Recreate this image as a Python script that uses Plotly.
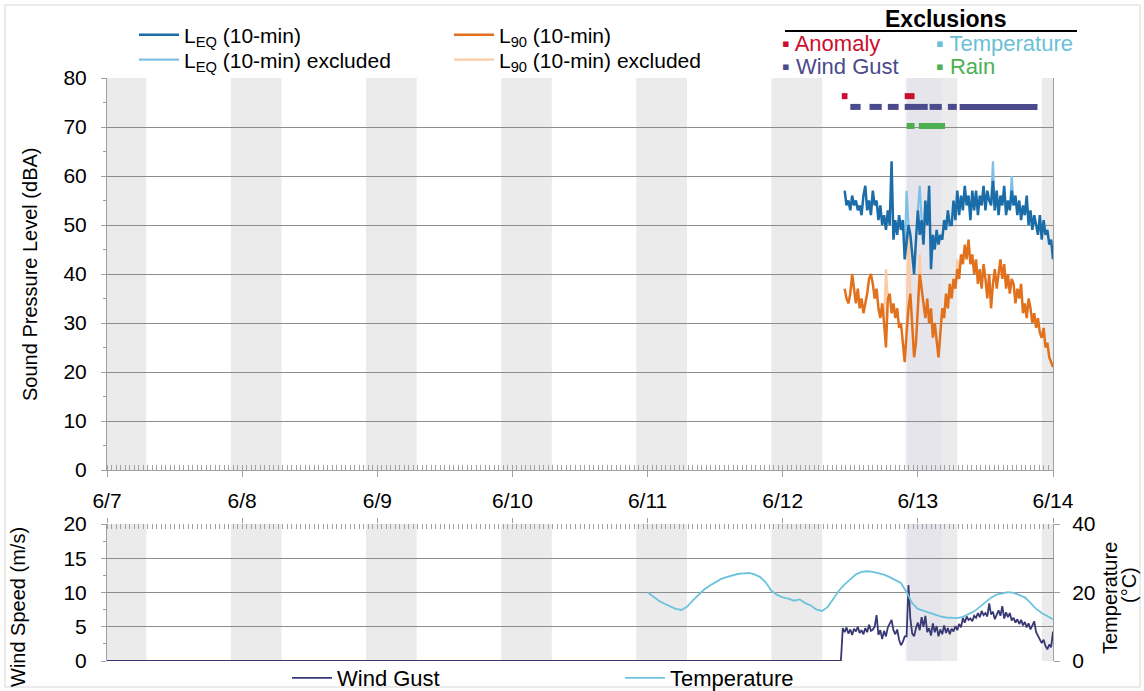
import plotly.graph_objects as go
import pandas as pd

W, H = 1144, 691
FONT = "Liberation Sans, Arial, sans-serif"

def px(x):
    return x / W

def py(y):
    return 1 - y / H

# ---------------- data ----------------
x_range = ["2023-06-07 00:00", "2023-06-14 00:00"]
day_ticks = pd.date_range("2023-06-07", "2023-06-14", freq="D")

# 20-minute values, 6/12 11:00 -> 6/14 00:00
leq_times = pd.date_range("2023-06-12 11:00", "2023-06-14 00:00", freq="20min")
leq_values = [
    57, 54, 55, 53, 56, 54, 55, 53, 54, 52, 56, 58,
    53, 55, 52, 57, 54, 55, 51, 54, 50, 52, 49, 53,
    50, 63, 47, 51, 48, 52, 49, 51, 43, 46, 50, 48,
    44, 40, 47,
    53, 48, 51, 46, 55, 50, 58, 41, 48, 45, 49, 46,
    48, 47, 51, 49, 53, 50, 50, 55, 51, 57, 52, 56,
    53, 58, 54, 56, 51, 57, 53, 57, 52, 56, 54, 58,
    53, 57, 55, 54, 59, 53, 57, 52, 56, 54, 58, 52,
    55, 53, 57, 54, 56, 52, 55, 51, 54, 52, 56, 50,
    53, 49, 52, 50, 48, 52, 47, 51, 48, 49, 46, 47,
    43,
]
l90_values = [
    37, 35, 34, 36, 40, 37, 34, 37, 33, 35, 32, 34,
    36, 39, 40, 38, 35, 37, 33, 31, 34, 30, 25, 35,
    36, 32, 34, 31, 33, 29, 30, 26, 22, 28, 33, 36,
    30, 23, 26,
    33, 40, 37, 34, 31, 35, 30, 33, 27, 30, 26, 23,
    28, 33, 31, 36, 33, 38, 35, 39, 37, 41, 39, 44,
    42, 46, 43, 47, 42, 44, 40, 43, 38, 41, 37, 42,
    39, 35, 40, 33, 38, 41, 37, 40, 43, 39, 42, 37,
    40, 36, 39, 38, 34, 37, 35, 38, 32, 34, 31, 35,
    33, 30, 32, 29, 31, 28, 27, 29, 25, 26, 23, 22,
    21,
]

# excluded intervals drawn in the lighter colours
leq_excl_times = [
    "2023-06-12 21:40", "2023-06-12 22:00", "2023-06-12 22:20", None,
    "2023-06-13 00:00", "2023-06-13 00:20", "2023-06-13 00:40", None,
    "2023-06-13 13:00", "2023-06-13 13:20", "2023-06-13 13:40", None,
    "2023-06-13 16:20", "2023-06-13 16:40", "2023-06-13 17:00",
]
leq_excl_values = [43, 57, 50, None, 53, 58, 51, None, 54, 63, 53, None, 53, 60, 54]
l90_excl_times = [
    "2023-06-12 18:00", "2023-06-12 18:20", "2023-06-12 18:40", None,
    "2023-06-12 22:00", "2023-06-12 22:20", "2023-06-12 22:40", None,
    "2023-06-13 00:00", "2023-06-13 00:20", "2023-06-13 00:40", None,
    "2023-06-13 06:40", "2023-06-13 07:00", "2023-06-13 07:20",
]
l90_excl_values = [30, 41, 35, None, 28, 50, 36, None, 33, 44, 37, None, 37, 43, 39]

# hourly temperature, 6/11 00:00 -> 6/14 00:00
temp_times = pd.date_range("2023-06-11 00:00", "2023-06-14 00:00", freq="h")
temp_values = [
    20.1, 18.8, 17.6, 16.7, 16.0, 15.2, 14.9, 15.8, 17.6, 19.2, 20.8, 22.0,
    23.0, 23.9, 24.5, 25.0, 25.4, 25.6, 25.7, 25.3, 24.5, 22.9, 20.5, 19.3,
    18.6, 18.2, 17.6, 18.0, 16.9, 16.2, 15.0, 14.6, 15.8, 18.2, 20.6, 22.4,
    24.0, 25.3, 26.0, 26.2, 26.0, 25.6, 25.2, 24.5, 23.6, 22.8, 20.1, 16.9,
    15.2, 14.6, 14.0, 13.6, 13.0, 12.7, 12.5, 12.5, 12.9, 13.6, 14.5, 15.8,
    17.2, 18.5, 19.4, 19.8, 20.1, 19.9, 19.2, 18.6, 17.0, 15.2, 14.0, 13.0,
    12.2,
]

# wind gust: zero until 6/12 10:20, then 20-minute values
wind_times = [pd.Timestamp("2023-06-07 00:00"), pd.Timestamp("2023-06-12 10:20")] + list(
    pd.date_range("2023-06-12 10:40", "2023-06-14 00:00", freq="20min"))
wind_values = [
    0.0, 0.0,
    4.8,
    4.2, 4.9, 4.0, 4.6, 3.8, 4.7, 4.3, 5.0, 4.1, 4.5, 3.9, 4.8,
    4.2, 5.3, 4.4, 4.6, 5.0, 6.7, 3.8, 4.5, 3.2, 4.4, 3.6, 4.9,
    5.4, 6.0, 4.5, 3.9, 4.6, 3.1, 2.3, 2.8, 3.6, 3.6, 11.1, 6.2,
    4.0, 3.6, 4.8,
    5.6, 4.5, 6.4, 5.0, 6.6, 4.2, 4.8, 3.7, 5.5, 4.2, 5.1, 3.6,
    4.6, 3.9, 5.2, 4.1, 4.8, 3.9, 4.7, 4.3, 5.1, 4.5, 5.4, 4.9,
    6.3, 5.6, 6.5, 6.0, 6.2, 5.8, 6.6, 6.3, 7.0, 6.4, 7.3, 6.7,
    7.0, 6.5, 8.4, 6.8, 7.2, 6.1, 6.9, 7.4, 6.6, 8.0, 6.2, 7.1,
    6.4, 7.0, 5.9, 6.3, 5.6, 6.1, 5.4, 6.0, 5.2, 5.7, 4.9, 5.5,
    4.6, 5.1, 5.8, 4.2, 3.6, 3.0, 2.6, 3.1, 2.2, 1.7, 2.4, 2.0,
    4.3,
]

# exclusion periods (start, end) and the level they are drawn at (dBA)
excl_anomaly = [("2023-06-12 10:30", "2023-06-12 11:30"), ("2023-06-12 21:40", "2023-06-12 23:25")]
excl_wind = [
    ("2023-06-12 12:00", "2023-06-12 13:50"), ("2023-06-12 15:25", "2023-06-12 17:35"),
    ("2023-06-12 18:40", "2023-06-12 20:35"), ("2023-06-12 21:40", "2023-06-13 01:45"),
    ("2023-06-13 02:05", "2023-06-13 04:15"), ("2023-06-13 05:20", "2023-06-13 06:55"),
    ("2023-06-13 07:25", "2023-06-13 21:15"),
]
excl_rain = [("2023-06-12 22:00", "2023-06-12 23:25"), ("2023-06-13 00:10", "2023-06-13 04:50")]
level_anomaly, level_wind, level_rain = 76.3, 74.1, 70.2

# night-time bands (22:00 -> 07:00)
night_start_hour, night_end_hour = 22, 7
night_dates = pd.date_range("2023-06-06", "2023-06-13", freq="D")
shade_period = ("2023-06-12 21:40", "2023-06-13 04:15")

# ---------------- colours ----------------
C_LEQ, C_LEQX = "#1a6da8", "#7cc0e8"
C_L90, C_L90X = "#e2711d", "#fbcba5"
C_WIND, C_TEMP = "#383874", "#6cc3dc"
C_RED, C_PURP, C_GREEN = "#c8102e", "#4a4a8c", "#4cb050"
GRID = "#8c8c8c"
AX = "#a0a0a0"


def segs(periods, level):
    xs, ys = [], []
    for s, e in periods:
        xs += [s, e, None]
        ys += [level, level, None]
    return xs, ys


fig = go.Figure()

fig.add_trace(go.Scatter(x=leq_excl_times, y=leq_excl_values, mode="lines",
                         line=dict(color=C_LEQX, width=2.2), name="L<sub>EQ</sub> (10-min) excluded",
                         legend="legend5", xaxis="x", yaxis="y"))
fig.add_trace(go.Scatter(x=l90_excl_times, y=l90_excl_values, mode="lines",
                         line=dict(color=C_L90X, width=2.2), name="L<sub>90</sub> (10-min) excluded",
                         legend="legend6", xaxis="x", yaxis="y"))
fig.add_trace(go.Scatter(x=leq_times, y=leq_values, mode="lines",
                         line=dict(color=C_LEQ, width=2.5), name="L<sub>EQ</sub> (10-min)",
                         legend="legend", xaxis="x", yaxis="y"))
fig.add_trace(go.Scatter(x=leq_times, y=l90_values, mode="lines",
                         line=dict(color=C_L90, width=2.5), name="L<sub>90</sub> (10-min)",
                         legend="legend2", xaxis="x", yaxis="y"))

for periods, level, col in [(excl_anomaly, level_anomaly, C_RED),
                            (excl_wind, level_wind, C_PURP),
                            (excl_rain, level_rain, C_GREEN)]:
    xs, ys = segs(periods, level)
    fig.add_trace(go.Scatter(x=xs, y=ys, mode="lines", line=dict(color=col, width=6),
                             showlegend=False, hoverinfo="skip", xaxis="x", yaxis="y"))

fig.add_trace(go.Scatter(x=temp_times, y=temp_values, mode="lines",
                         line=dict(color=C_TEMP, width=1.8), name="Temperature",
                         legend="legend4", xaxis="x2", yaxis="y3"))
fig.add_trace(go.Scatter(x=wind_times, y=wind_values, mode="lines",
                         line=dict(color=C_WIND, width=1.8), name="Wind Gust",
                         legend="legend3", xaxis="x2", yaxis="y2"))

# ---------------- shapes ----------------
shapes = []
t0, t1 = pd.Timestamp(x_range[0]), pd.Timestamp(x_range[1])
for d in night_dates:
    s = max(d + pd.Timedelta(hours=night_start_hour), t0)
    e = min(d + pd.Timedelta(days=1, hours=night_end_hour), t1)
    for xr, yr in [("x", "y domain"), ("x2", "y2 domain")]:
        shapes.append(dict(type="rect", xref=xr, yref=yr, x0=s, x1=e, y0=0, y1=1,
                           fillcolor="#ebebeb", line=dict(width=0), layer="below"))
for xr, yr in [("x", "y domain"), ("x2", "y2 domain")]:
    shapes.append(dict(type="rect", xref=xr, yref=yr, x0=shade_period[0], x1=shade_period[1],
                       y0=0, y1=1, fillcolor="rgba(205,195,240,0.14)", line=dict(width=0),
                       layer="below"))
# exclusions header underline and outer frame
shapes.append(dict(type="line", xref="paper", yref="paper", x0=px(785), x1=px(1077),
                   y0=py(31), y1=py(31), line=dict(color="black", width=2)))
shapes.append(dict(type="rect", xref="paper", yref="paper", x0=px(5), x1=px(1140),
                   y0=py(687), y1=py(5), line=dict(color="#d6d6d6", width=1)))

# ---------------- annotations ----------------
ann = []
def text(x, y, t, size=22, color="black", xanchor="left", angle=0):
    ann.append(dict(x=px(x), y=py(y), xref="paper", yref="paper", text=t, showarrow=False,
                    xanchor=xanchor, yanchor="middle", textangle=angle,
                    font=dict(family=FONT, size=size, color=color)))

text(946, 19, "<b>Exclusions</b>", size=23, xanchor="center")
text(780, 44, "▪ Anomaly", color=C_RED)
text(780, 66, "▪ Wind Gust", color=C_PURP)
text(934, 44, "▪ Temperature", color="#6bbfd6")
text(934, 66, "▪ Rain", color=C_GREEN)
text(30, 275, "Sound Pressure Level (dBA)", size=20, xanchor="center", angle=-90)
text(18, 607, "Wind Speed (m/s)", size=20, xanchor="center", angle=-90)
text(1110, 598, "Temperature", size=20, xanchor="center", angle=-90)
text(1129, 585, "(°C)", size=20, xanchor="center", angle=-90)

tickfont = dict(family=FONT, size=21, color="black")
xdom = [px(107), px(1053)]


def leg(x, y, size=21):
    return dict(x=px(x), y=py(y), xanchor="left", yanchor="middle", orientation="h",
                bgcolor="rgba(0,0,0,0)", font=dict(family=FONT, size=size, color="black"),
                itemwidth=40)


fig.update_layout(
    width=W, height=H, margin=dict(l=0, r=0, t=0, b=0, autoexpand=False),
    paper_bgcolor="white", plot_bgcolor="white",
    font=dict(family=FONT, size=21, color="black"),
    shapes=shapes, annotations=ann,
    xaxis=dict(domain=xdom, anchor="y", type="date", range=x_range, automargin=False,
               tickvals=day_ticks, tickformat="%-m/%-d", tickfont=tickfont,
               ticks="outside", ticklen=6, tickcolor=AX, showline=True, linecolor=AX,
               ticklabelstandoff=6,
               showgrid=False, zeroline=False,
               minor=dict(dtick=2880000, ticks="inside", ticklen=5, tickcolor=AX, showgrid=False)),
    yaxis=dict(domain=[py(470), py(78)], anchor="x", range=[0, 80], dtick=10, automargin=False,
               tickfont=tickfont, ticks="outside", ticklen=5, tickcolor=AX,
               ticklabelstandoff=10,
               showgrid=True, gridcolor=GRID, gridwidth=1, zeroline=False,
               showline=True, linecolor=AX, mirror=True,
               minor=dict(dtick=5, ticks="outside", ticklen=3, tickcolor=AX, showgrid=False)),
    xaxis2=dict(domain=xdom, anchor="y2", type="date", range=x_range, side="top", automargin=False,
                tickvals=day_ticks, showticklabels=False, ticks="outside", ticklen=5,
                tickcolor=AX, showline=False, showgrid=False, zeroline=False,
                minor=dict(dtick=2880000, ticks="inside", ticklen=5, tickcolor=AX, showgrid=False)),
    yaxis2=dict(domain=[py(661), py(524)], anchor="x2", range=[0, 20], dtick=5, automargin=False,
                tickfont=tickfont, ticks="outside", ticklen=5, tickcolor=AX,
                ticklabelstandoff=10,
                showgrid=True, gridcolor=GRID, gridwidth=1, zeroline=False,
                showline=True, linecolor=AX,
                minor=dict(dtick=2.5, ticks="outside", ticklen=3, tickcolor=AX, showgrid=False)),
    yaxis3=dict(overlaying="y2", anchor="x2", side="right", range=[0, 40], dtick=20,
                automargin=False, ticklabelstandoff=8,
                tickfont=tickfont, ticks="outside", ticklen=6, tickcolor=AX,
                showgrid=False, zeroline=False, showline=True, linecolor=AX),
    legend=leg(134, 35),
    legend5=leg(134, 60),
    legend2=leg(449, 35),
    legend6=leg(449, 60),
    legend3=leg(287, 678, 22),
    legend4=leg(620, 678, 22),
)

fig.write_html("out.html")
